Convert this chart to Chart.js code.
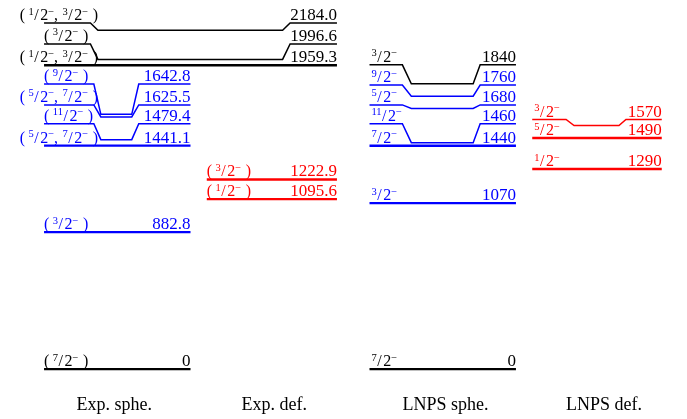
<!DOCTYPE html>
<html><head><meta charset="utf-8">
<script src="https://cdn.jsdelivr.net/npm/chart.js@4/dist/chart.umd.min.js"></script>
<style>html,body{margin:0;padding:0;background:#fff;overflow:hidden}canvas{display:block}</style>
</head><body>
<canvas id="c" width="687" height="419"></canvas>
<script>
// ---------------- DATA ----------------
const categories = ["Exp. sphe.", "Exp. def.", "LNPS sphe.", "LNPS def."];

// Experimental, spherical band (keV)
const expSpheEnergies = [0, 882.8, 1441.1, 1479.4, 1625.5, 1642.8];
const expSpheLabelAt  = [0, 882.8, 1441.1, 1581.6, 1703.0, 1838.0];
const expSpheSpins    = ["(7/2−)", "(3/2−)", "(5/2−,7/2−)", "(11/2−)", "(5/2−,7/2−)", "(9/2−)"];

// Experimental, unassigned high levels
const expHighEnergies = [1959.3, 1996.6, 2184.0];
const expHighLabelAt  = [1959.3, 2096.4, 2231.1];
const expHighSpins    = ["(1/2−,3/2−)", "(3/2−)", "(1/2−,3/2−)"];

// Experimental, deformed
const expDefEnergies = [1095.6, 1222.9];
const expDefLabelAt  = [1095.6, 1222.9];
const expDefSpins    = ["(1/2−)", "(3/2−)"];

// LNPS, spherical
const lnpsSpheEnergies = [0, 1070, 1440, 1460, 1680, 1760, 1840];
const lnpsSpheLabelAt  = [0, 1070, 1440, 1581.6, 1703.4, 1831.6, 1961.8];
const lnpsSpheSpins    = ["7/2−", "3/2−", "7/2−", "11/2−", "5/2−", "9/2−", "3/2−"];

// LNPS, deformed
const lnpsDefEnergies = [1290, 1490, 1570];
const lnpsDefLabelAt  = [1290, 1490, 1609.2];
const lnpsDefSpins    = ["1/2−", "5/2−", "3/2−"];

// ---------------- STYLE / LAYOUT ----------------
const BLACK = "#000000", BLUE = "#0000ff", RED = "#ff0000";
const expSpheColors  = [BLACK, BLUE, BLUE, BLUE, BLUE, BLUE];
const expHighColors  = [BLACK, BLACK, BLACK];
const expDefColors   = [RED, RED];
const lnpsSpheColors = [BLACK, BLUE, BLUE, BLUE, BLUE, BLUE, BLACK];
const lnpsDefColors  = [RED, RED, RED];

const COLS = {
  expSphe:  { x0: 0.0, x1: 0.9,   kink: [0.306, 0.349, 0.539, 0.582], textIndent: 0 },
  expHigh:  { x0: 0.0, x1: 1.8,   kink: [0.285, 0.331, 1.466, 1.512], textIndent: 0 },
  expDef:   { x0: 1.0, x1: 1.8,   kink: [0.25, 0.3, 0.5, 0.55],       textIndent: 0 },
  lnpsSphe: { x0: 2.0, x1: 2.9,   kink: [0.202, 0.257, 0.637, 0.680], textIndent: 2 },
  lnpsDef:  { x0: 3.0, x1: 3.796, kink: [0.208, 0.257, 0.533, 0.576], textIndent: 2 }
};
const TICK_POS = [0.432, 1.414, 2.467, 3.441];
const CAT_BASELINE = 410;
const SERIF = '"Liberation Serif", "Times New Roman", serif';
const PX_PER_KEV = 0.15598, ZERO_PX = 370;

const fmtExp = e => e === 0 ? "0" : e.toFixed(1);
const fmtTh  = e => String(e);

function group(energies, labelAt, spins, colors, col, fmt) {
  return energies.map((e, i) => ({ e, lab: labelAt[i], spin: spins[i], color: colors[i], col, text: fmt(e) }));
}
const levels = [].concat(
  group(expSpheEnergies, expSpheLabelAt, expSpheSpins, expSpheColors, COLS.expSphe, fmtExp),
  group(expHighEnergies, expHighLabelAt, expHighSpins, expHighColors, COLS.expHigh, fmtExp),
  group(expDefEnergies, expDefLabelAt, expDefSpins, expDefColors, COLS.expDef, fmtExp),
  group(lnpsSpheEnergies, lnpsSpheLabelAt, lnpsSpheSpins, lnpsSpheColors, COLS.lnpsSphe, fmtTh),
  group(lnpsDefEnergies, lnpsDefLabelAt, lnpsDefSpins, lnpsDefColors, COLS.lnpsDef, fmtTh)
);

const datasets = levels.map(L => {
  const c = L.col, k = c.kink;
  const kinked = L.lab !== L.e;
  const pts = kinked ? [
    { x: c.x0, y: L.lab }, { x: c.x0 + k[0], y: L.lab },
    { x: c.x0 + k[1], y: L.e }, { x: c.x0 + k[2], y: L.e },
    { x: c.x0 + k[3], y: L.lab }, { x: c.x1, y: L.lab }
  ] : [ { x: c.x0, y: L.e }, { x: c.x1, y: L.e } ];
  return {
    data: pts, showLine: true, borderColor: L.color, backgroundColor: L.color, clip: false,
    borderWidth: kinked ? 1.5 : 2.4, pointRadius: 0, pointHoverRadius: 0, tension: 0, fill: false
  };
});

// ---------- spin label renderer ----------
const NORM = 16, SUP = 10.5, RAISE = 5.5;
function tokenize(str) {
  const parts = [];
  let i = 0;
  while (i < str.length) {
    const ch = str[i];
    if (/\d/.test(ch)) {
      let j = i; while (j < str.length && /\d/.test(str[j])) j++;
      const num = str.slice(i, j);
      if (str[j] === '/') {
        parts.push({ t: num, sup: true, after: 0.5 });
        parts.push({ t: '/', sup: false, after: 1.5 });
        i = j + 1;
        let k = i; while (k < str.length && /\d/.test(str[k])) k++;
        parts.push({ t: str.slice(i, k), sup: false });
        i = k;
      } else { parts.push({ t: num, sup: false }); i = j; }
    } else if (ch === '−') {
      parts.push({ t: '−', sup: true, after: str[i + 1] === ')' ? 4.5 : 0 }); i++;
    } else if (ch === '(') { parts.push({ t: '(', sup: false, after: 3.5 }); i++; }
    else if (ch === ',') { parts.push({ t: ',', sup: false, after: 4.5 }); i++; }
    else { parts.push({ t: ch, sup: false }); i++; }
  }
  return parts;
}
function drawSpin(ctx, str, xLeft, base, indent) {
  const parts = tokenize(str);
  let w = 0;
  parts.forEach(p => {
    ctx.font = (p.sup ? SUP : NORM) + 'px ' + SERIF;
    p.w = ctx.measureText(p.t).width;
    w += p.w + (p.after || 0);
  });
  let x = w > 56 ? xLeft + 54 - w : xLeft + indent;
  ctx.textAlign = 'left'; ctx.textBaseline = 'alphabetic';
  parts.forEach(p => {
    ctx.font = (p.sup ? SUP : NORM) + 'px ' + SERIF;
    ctx.fillText(p.t, x, p.sup ? base - RAISE : base);
    x += p.w + (p.after || 0);
  });
}

const textPlugin = {
  id: 'levelText',
  afterDatasetsDraw(chart) {
    const { ctx, scales: { x, y } } = chart;
    ctx.save();
    levels.forEach(L => {
      const base = y.getPixelForValue(L.lab) - 3;
      const xl = x.getPixelForValue(L.col.x0), xr = x.getPixelForValue(L.col.x1);
      ctx.fillStyle = L.color;
      ctx.font = '17px ' + SERIF;
      ctx.textAlign = 'right'; ctx.textBaseline = 'alphabetic';
      ctx.fillText(L.text, xr, base);
      drawSpin(ctx, L.spin, xl, base, L.col.textIndent);
    });
    // category names under each column, placed via the x scale
    ctx.fillStyle = '#000';
    ctx.font = '18px ' + SERIF;
    ctx.textAlign = 'center'; ctx.textBaseline = 'alphabetic';
    categories.forEach((name, i) => ctx.fillText(name, x.getPixelForValue(TICK_POS[i]), CAT_BASELINE));
    ctx.restore();
  }
};

const chart = new Chart(document.getElementById('c'), {
  type: 'scatter',
  data: { datasets },
  options: {
    responsive: false, animation: false, devicePixelRatio: 1,
    layout: { padding: 0 },
    plugins: { legend: { display: false }, tooltip: { enabled: false }, title: { display: false } },
    events: [],
    scales: {
      x: { type: 'linear', display: false, min: -0.2633, max: 3.9437 },
      y: { type: 'linear', display: false, min: -314.1, max: 2372.1 }
    }
  },
  plugins: [textPlugin]
});
// calibrate the energy axis so that the energy scale matches the figure
const ca = chart.chartArea;
chart.options.scales.y.max = (ZERO_PX - ca.top) / PX_PER_KEV;
chart.options.scales.y.min = chart.options.scales.y.max - (ca.bottom - ca.top) / PX_PER_KEV;
chart.update();
</script>
</body></html>
